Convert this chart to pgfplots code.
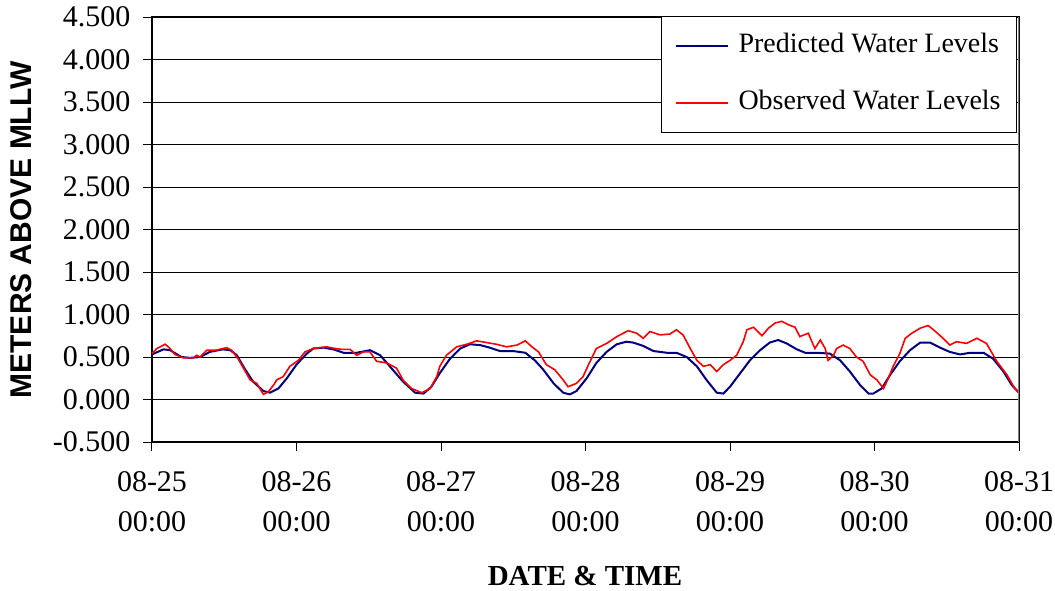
\documentclass[border=0pt]{standalone}
\usepackage{fontspec}
\setmainfont{Liberation Serif}
\newfontfamily\arialfont{Liberation Sans}
\usepackage{pgfplots}
\pgfplotsset{compat=1.18}
\definecolor{predblue}{RGB}{0,0,128}
\definecolor{obsred}{RGB}{255,0,0}

% hours since 08-25 00:00, meters above MLLW
\pgfplotstableread{
t v
0.0 0.53
1.9 0.59
3.0 0.58
4.9 0.50
6.3 0.49
8.0 0.50
9.6 0.56
11.8 0.59
13.0 0.58
14.1 0.52
15.5 0.35
16.8 0.21
18.5 0.10
19.6 0.08
21.0 0.13
22.4 0.25
24.0 0.41
25.7 0.54
26.8 0.60
28.5 0.61
30.1 0.59
31.8 0.55
34.0 0.55
36.2 0.58
37.9 0.52
39.5 0.39
41.7 0.21
43.7 0.08
45.1 0.07
46.4 0.15
47.8 0.31
49.5 0.48
51.2 0.60
52.8 0.65
54.5 0.64
56.1 0.61
57.8 0.57
60.0 0.57
62.0 0.55
63.6 0.46
65.0 0.35
66.7 0.19
68.3 0.08
69.4 0.06
70.5 0.10
72.2 0.25
73.8 0.43
75.5 0.56
77.2 0.65
78.8 0.68
79.9 0.67
81.6 0.63
83.3 0.57
85.5 0.55
87.1 0.55
88.8 0.50
90.5 0.39
92.1 0.23
93.8 0.08
94.9 0.07
96.0 0.15
97.7 0.31
99.3 0.46
101.0 0.58
102.6 0.67
104.0 0.70
105.4 0.66
107.1 0.59
108.5 0.55
110.4 0.55
112.6 0.54
114.3 0.46
115.9 0.33
117.6 0.17
119.0 0.07
119.8 0.07
121.2 0.13
122.6 0.29
124.2 0.45
125.9 0.58
127.6 0.67
129.2 0.67
130.9 0.61
132.5 0.56
134.2 0.53
135.9 0.55
138.1 0.55
139.7 0.48
141.4 0.33
142.8 0.17
144.0 0.08
}\predicted

\pgfplotstableread{
t v
0.0 0.54
0.8 0.60
2.2 0.65
3.0 0.60
3.8 0.53
5.2 0.49
6.9 0.49
7.4 0.52
8.0 0.50
9.1 0.58
10.7 0.58
12.4 0.61
13.2 0.58
14.3 0.48
15.5 0.33
16.3 0.23
17.4 0.19
18.5 0.06
19.3 0.09
20.2 0.17
20.7 0.23
21.8 0.27
22.9 0.39
24.3 0.46
25.4 0.56
26.8 0.60
29.0 0.62
30.4 0.60
31.5 0.59
32.9 0.59
34.0 0.52
35.1 0.56
36.2 0.56
37.3 0.45
39.0 0.43
40.6 0.37
41.7 0.23
43.1 0.13
44.8 0.08
46.2 0.13
47.3 0.27
47.8 0.39
48.9 0.52
50.6 0.62
52.3 0.65
53.9 0.69
55.6 0.67
57.2 0.65
58.9 0.62
60.6 0.64
62.0 0.69
63.1 0.62
64.2 0.56
65.5 0.41
66.9 0.35
68.3 0.23
69.1 0.15
70.5 0.19
71.6 0.27
72.5 0.41
73.8 0.60
75.5 0.66
77.2 0.74
79.1 0.81
80.5 0.78
81.6 0.72
82.7 0.80
84.4 0.76
86.0 0.77
87.1 0.82
88.2 0.76
89.4 0.60
90.5 0.46
91.6 0.39
92.7 0.41
93.8 0.33
94.9 0.41
96.0 0.46
97.1 0.52
98.2 0.68
98.8 0.82
99.9 0.85
101.3 0.75
102.4 0.84
103.5 0.90
104.6 0.92
105.7 0.88
106.8 0.85
107.6 0.74
109.0 0.78
110.1 0.60
111.0 0.70
111.8 0.60
112.3 0.46
113.2 0.52
113.7 0.60
114.8 0.64
115.9 0.60
117.0 0.50
118.1 0.45
119.3 0.29
120.4 0.23
121.5 0.13
122.3 0.25
123.1 0.39
124.2 0.54
125.1 0.72
126.2 0.78
127.6 0.84
128.9 0.87
129.8 0.82
131.4 0.72
132.5 0.64
133.6 0.68
135.3 0.66
137.0 0.72
138.6 0.66
140.3 0.45
142.0 0.29
143.3 0.13
144.0 0.08
}\observed

\begin{document}
\begin{tikzpicture}
\useasboundingbox (-152pt,-148pt) rectangle (903pt,442pt);
\begin{axis}[
    at={(0pt,0pt)}, anchor=south west,
    scale only axis,
    width=867pt, height=425pt,
    xmin=0, xmax=144,
    ymin=-0.5, ymax=4.5,
    xtick={0,24,48,72,96,120,144},
    xticklabels={08-25\\00:00,08-26\\00:00,08-27\\00:00,08-28\\00:00,08-29\\00:00,08-30\\00:00,08-31\\00:00},
    ytick={-0.5,0,0.5,1,1.5,2,2.5,3,3.5,4,4.5},
    yticklabels={-0.500,0.000,0.500,1.000,1.500,2.000,2.500,3.000,3.500,4.000,4.500},
    ymajorgrids,
    grid style={black, line width=1pt},
    axis line style={black, line width=1.2pt},
    tick pos=left,
    tick align=outside,
    major tick length=9pt,
    tick style={black, line width=1pt},
    ticklabel style={font=\fontsize{30}{40}\selectfont},
    xticklabel style={align=center, yshift=-17pt},
    yticklabel style={xshift=-9pt},
    legend style={
        at={(rel axis cs:0.9977,1.0024)}, anchor=north east,
        draw=black, line width=0.8pt,
        font=\fontsize{28}{34}\selectfont,
        inner xsep=13pt, inner ysep=13pt,
        row sep=24pt,
        nodes={text height=20pt, text depth=7pt, inner sep=3pt},
        legend cell align=left,
        /tikz/every odd column/.append style={column sep=7pt},
    },
    legend image code/.code={
        \path (-8pt,0pt) -- (44pt,0pt);
        \draw[#1] (0pt,0pt) -- (44pt,0pt);
    },
]
\addplot[predblue, line width=2pt] table[x=t, y=v] {\predicted};
\addlegendentry{Predicted Water Levels}
\addplot[obsred, line width=1.6pt] table[x=t, y=v] {\observed};
\addlegendentry{Observed Water Levels}
\draw[gray, line width=2pt] (rel axis cs:1,0) -- (rel axis cs:1,1);
\end{axis}
\node[rotate=90, font=\arialfont\bfseries\fontsize{30}{34}\selectfont] at (-131pt,212pt) {METERS ABOVE MLLW};
\node[anchor=base, inner sep=0pt, font=\bfseries\fontsize{29}{32}\selectfont] at (433pt,-143pt) {DATE \& TIME};
\end{tikzpicture}
\end{document}
